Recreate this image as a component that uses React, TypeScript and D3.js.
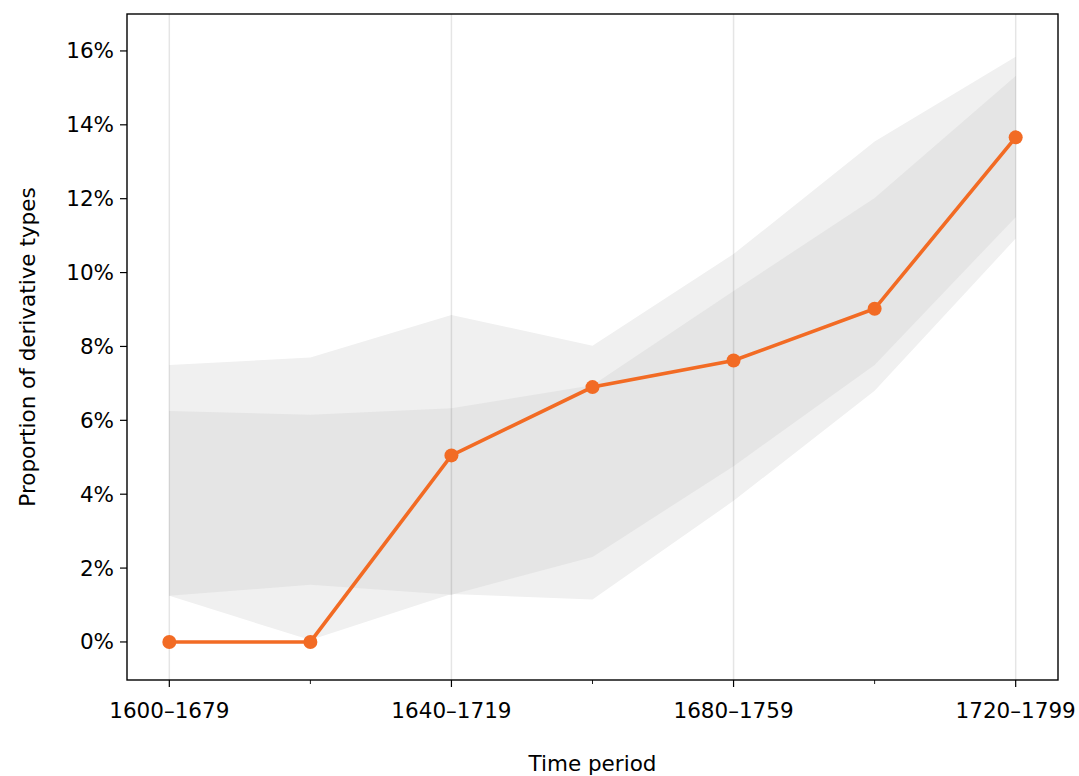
import React from "react";
import * as d3 from "d3";

const periods = ["1600–1679", "1620–1699", "1640–1719", "1660–1739", "1680–1759", "1700–1779", "1720–1799"];
const proportion = [0.0, 0.0, 5.05, 6.9, 7.62, 9.02, 13.66];
const outerLower = [1.25, 0.05, 1.3, 1.15, 3.82, 6.8, 10.92];
const outerUpper = [7.5, 7.7, 8.85, 8.02, 10.5, 13.55, 15.84];
const innerLower = [1.25, 1.55, 1.28, 2.3, 4.76, 7.5, 11.5];
const innerUpper = [6.25, 6.15, 6.33, 6.95, 9.5, 12.02, 15.32];
const yTicks = [0, 2, 4, 6, 8, 10, 12, 14, 16];
const labelledPeriods = [0, 2, 4, 6];

const W = 1079;
const H = 776;
const M = { left: 127, right: 1058, top: 14, bottom: 680 };
const FONT = "DejaVu Sans, sans-serif";
const FS = 21.5;

export default function App() {
  const idx = d3.range(periods.length);
  const x = d3.scaleLinear().domain([-0.3, 6.3]).range([M.left, M.right]);
  const y = d3.scaleLinear().domain([-1.03, 17.0]).range([M.bottom, M.top]);

  const band = (lo: number[], hi: number[]) =>
    d3
      .area<number>()
      .x((i) => x(i))
      .y0((i) => y(lo[i]))
      .y1((i) => y(hi[i]))(idx) as string;

  const line = d3
    .line<number>()
    .x((i) => x(i))
    .y((i) => y(proportion[i]))(idx) as string;

  return (
    <svg width={W} height={H} style={{ display: "block", position: "absolute", left: 0, top: 0 }} fontFamily={FONT}>
      <rect width={W} height={H} fill="#fff" />
      <path d={band(outerLower, outerUpper)} fill="#f0f0f0" />
      <path d={band(innerLower, innerUpper)} fill="#e5e5e5" />
      {labelledPeriods.map((i) => (
        <line key={i} x1={x(i)} x2={x(i)} y1={M.top} y2={M.bottom} stroke="#000" strokeOpacity={0.1} strokeWidth={1.5} />
      ))}
      <path d={line} fill="none" stroke="#f26b24" strokeWidth={3.6} />
      {idx.map((i) => (
        <circle key={i} cx={x(i)} cy={y(proportion[i])} r={7} fill="#f26b24" />
      ))}
      <rect x={M.left} y={M.top} width={M.right - M.left} height={M.bottom - M.top} fill="none" stroke="#000" strokeWidth={1.4} />
      {yTicks.map((t) => (
        <g key={t}>
          <line x1={M.left - 7} x2={M.left} y1={y(t)} y2={y(t)} stroke="#000" strokeWidth={1.2} />
          <text x={M.left - 13} y={y(t)} dy="0.35em" textAnchor="end" fontSize={FS} fill="#000">
            {t}%
          </text>
        </g>
      ))}
      {idx.map((i) => {
        const major = labelledPeriods.includes(i);
        return (
          <g key={i}>
            <line x1={x(i)} x2={x(i)} y1={M.bottom} y2={M.bottom + (major ? 7 : 4)} stroke="#000" strokeWidth={major ? 1.2 : 0.9} />
            {major && (
              <text x={x(i)} y={M.bottom + 38} textAnchor="middle" fontSize={FS} fill="#000">
                {periods[i]}
              </text>
            )}
          </g>
        );
      })}
      <text x={(M.left + M.right) / 2} y={771} textAnchor="middle" fontSize={FS} fill="#000">
        Time period
      </text>
      <text transform={`translate(35, ${(M.top + M.bottom) / 2}) rotate(-90)`} textAnchor="middle" fontSize={FS} fill="#000">
        Proportion of derivative types
      </text>
    </svg>
  );
}
